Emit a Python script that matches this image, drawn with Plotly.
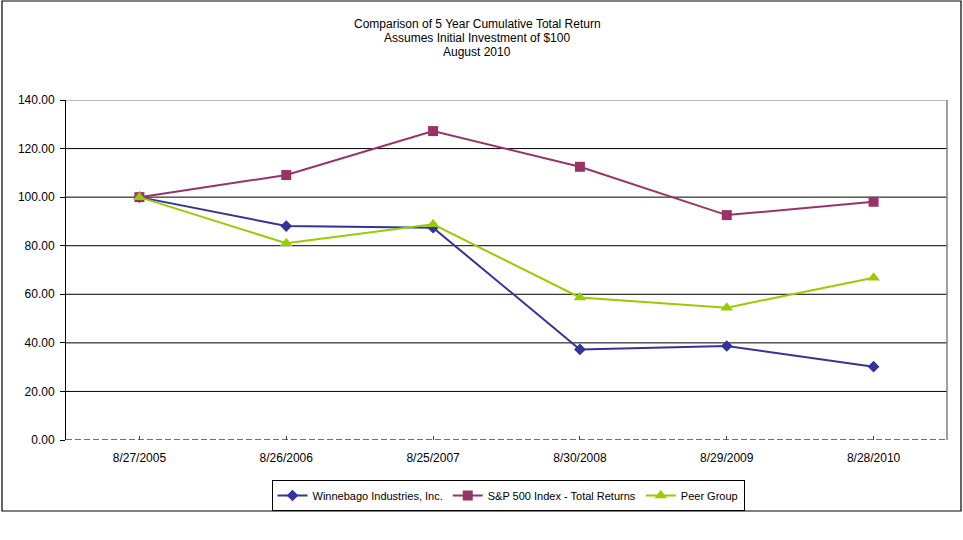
import plotly.graph_objects as go

# data
dates = ["8/27/2005", "8/26/2006", "8/25/2007", "8/30/2008", "8/29/2009", "8/28/2010"]
winnebago = [100.00, 88.1, 87.4, 37.3, 38.7, 30.2]
sp500 = [100.00, 109.1, 127.2, 112.5, 92.6, 98.1]
peer = [100.00, 81.0, 88.8, 58.7, 54.5, 66.8]
y_ticks = [0, 20, 40, 60, 80, 100, 120, 140]
title_lines = ["Comparison of 5 Year Cumulative Total Return",
               "Assumes Initial Investment of $100",
               "August 2010"]

fig = go.Figure()
fig.add_trace(go.Scatter(x=dates, y=winnebago, name="Winnebago Industries, Inc.",
                         mode="lines+markers", line=dict(color="#333399", width=2),
                         marker=dict(symbol="diamond", size=9, color="#333399")))
fig.add_trace(go.Scatter(x=dates, y=sp500, name="S&P 500 Index - Total Returns",
                         mode="lines+markers", line=dict(color="#993366", width=2),
                         marker=dict(symbol="square", size=10, color="#993366")))
fig.add_trace(go.Scatter(x=dates, y=peer, name="Peer Group",
                         mode="lines+markers", line=dict(color="#99CC00", width=2),
                         marker=dict(symbol="triangle-up", size=11, color="#99CC00")))

# gridlines (black), top border gray
shapes = []
for v in y_ticks[1:]:
    shapes.append(dict(type="line", xref="paper", yref="y", x0=0, x1=1, y0=v, y1=v,
                       line=dict(color="#808080" if v == 140 else "black", width=1),
                       layer="below"))
# right border of plot area
shapes.append(dict(type="line", xref="paper", yref="paper", x0=1, x1=1, y0=0, y1=1,
                   line=dict(color="#808080", width=1.5), layer="below"))
# dashed baseline
shapes.append(dict(type="line", xref="paper", yref="y", x0=0, x1=1, y0=0, y1=0,
                   line=dict(color="#404040", width=1.5, dash="6px,3px"), layer="below"))
# outer chart border
shapes.append(dict(type="rect", xref="paper", yref="paper",
                   x0=-64 / 881, x1=895 / 881, y0=-71 / 340, y1=439 / 340,
                   line=dict(color="black", width=1.2)))

# title as three centred lines
annotations = []
for i, line in enumerate(title_lines):
    annotations.append(dict(text=line, xref="paper", yref="paper",
                            x=(477 - 66) / 881, y=(440 - 24 - 14 * i) / 340,
                            xanchor="center", yanchor="middle", showarrow=False,
                            font=dict(size=12)))

fig.update_layout(
    width=963, height=540,
    margin=dict(l=66, r=16, t=100, b=100),
    paper_bgcolor="white", plot_bgcolor="white",
    font=dict(family="Liberation Sans, Arial", size=12, color="black"),
    annotations=annotations,
    xaxis=dict(type="category", range=[-0.5, 5.5], showgrid=False,
               ticks="inside", ticklen=4, tickcolor="#404040",
               showline=False, tickfont=dict(size=12), ticklabelstandoff=9),
    yaxis=dict(range=[0, 140], tickvals=y_ticks, tickformat=".2f",
               showgrid=False, zeroline=False, showline=True, linecolor="black",
               linewidth=1, ticks="outside", ticklen=5, tickcolor="black",
               tickfont=dict(size=12), ticklabelstandoff=3),
    shapes=shapes,
    legend=dict(orientation="h", x=(508 - 66) / 881, xanchor="center",
                y=(440 - 480) / 340, yanchor="top",
                bordercolor="black", borderwidth=1, font=dict(size=11),
                itemwidth=30, tracegroupgap=0),
    showlegend=True,
)

fig.write_html("out.html", config={"displayModeBar": False},
               post_script="document.body.style.margin='0px';")
